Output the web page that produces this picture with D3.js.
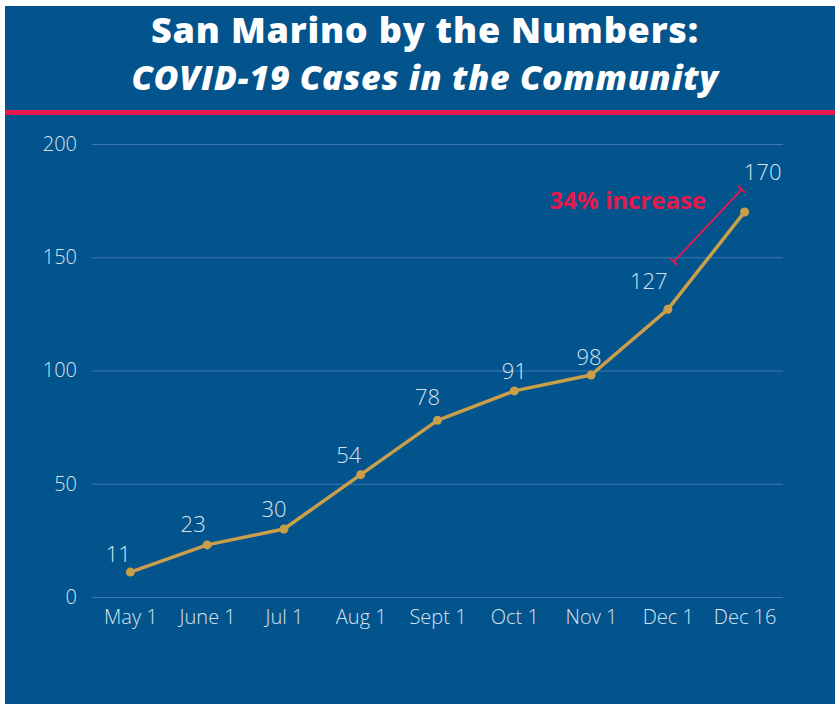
<!DOCTYPE html>
<html>
<head>
<meta charset="utf-8">
<script src="https://cdn.jsdelivr.net/npm/d3@7"></script>
<style>
  html, body { margin: 0; padding: 0; background: #fff; }
  svg { display: block; font-family: "Open Sans", sans-serif; }
</style>
</head>
<body>
<div id="chart"></div>
<script>
// données du graphique
const dates = ["May 1", "June 1", "Jul 1", "Aug 1", "Sept 1", "Oct 1", "Nov 1", "Dec 1", "Dec 16"];
const cases = [11, 23, 30, 54, 78, 91, 98, 127, 170];
const yTicks = [0, 50, 100, 150, 200];
const titleLine1 = "San Marino by the Numbers:";
const titleLine2 = "COVID-19 Cases in the Community";
const annotation = "34% increase";

const width = 835;
const height = 704;
const marginLeft = 92;
const marginRight = 52;
const marginTop = 144;
const marginBottom = 107;

const blue = "#03538d";
const gold = "#c99f4a";
const red = "#e8194a";
const light = "#d6e3ef";

const svg = d3.select("#chart").append("svg")
    .attr("width", width)
    .attr("height", height)
    .attr("viewBox", [0, 0, width, height]);

// fond bleu
svg.append("rect")
    .attr("x", 5)
    .attr("y", 6)
    .attr("width", width - 5)
    .attr("height", height - 6)
    .attr("fill", blue);

// titre
svg.append("text")
    .attr("x", 425)
    .attr("y", 43)
    .attr("text-anchor", "middle")
    .attr("fill", "#fff")
    .attr("font-size", "36px")
    .attr("font-weight", 800)
    .attr("letter-spacing", "0.8px")
    .text(titleLine1);

svg.append("text")
    .attr("x", 425)
    .attr("y", 90)
    .attr("text-anchor", "middle")
    .attr("fill", "#fff")
    .attr("font-size", "34px")
    .attr("font-weight", 800)
    .attr("font-style", "italic")
    .attr("letter-spacing", "0.7px")
    .text(titleLine2);

svg.append("rect")
    .attr("x", 5)
    .attr("y", 110)
    .attr("width", width - 5)
    .attr("height", 5)
    .attr("fill", red);

const x = d3.scalePoint()
    .domain(dates)
    .range([marginLeft, width - marginRight])
    .padding(0.5);

const y = d3.scaleLinear()
    .domain([0, 200])
    .range([height - marginBottom, marginTop]);

// axe Y + grille
svg.append("g")
    .attr("transform", `translate(${marginLeft},0)`)
    .call(d3.axisLeft(y).tickValues(yTicks).tickSize(0).tickPadding(15))
    .call(g => g.select(".domain").remove())
    .call(g => g.selectAll(".tick line").clone()
        .attr("x2", width - marginLeft - marginRight)
        .attr("stroke", "#3d79ac")
        .attr("stroke-width", 1))
    .call(g => g.selectAll(".tick text")
        .attr("fill", light)
        .attr("font-size", "20px")
        .attr("font-weight", 300)
        .attr("font-family", "Open Sans, sans-serif"));

// axe X
svg.append("g")
    .attr("transform", `translate(0,${height - marginBottom})`)
    .call(d3.axisBottom(x).tickSize(0).tickPadding(13))
    .call(g => g.select(".domain").remove())
    .call(g => g.selectAll(".tick text")
        .attr("fill", light)
        .attr("font-size", "20px")
        .attr("font-weight", 300)
        .attr("font-family", "Open Sans, sans-serif"));

const points = dates.map((d, i) => ({ date: d, value: cases[i] }));

const line = d3.line()
    .x(d => x(d.date))
    .y(d => y(d.value));

svg.append("path")
    .datum(points)
    .attr("fill", "none")
    .attr("stroke", gold)
    .attr("stroke-width", 3.5)
    .attr("stroke-linejoin", "round")
    .attr("d", line);

svg.append("g")
    .selectAll("circle")
    .data(points)
    .join("circle")
    .attr("cx", d => x(d.date))
    .attr("cy", d => y(d.value))
    .attr("r", 4.5)
    .attr("fill", gold);

// étiquettes de valeurs (décalages repérés sur l'image)
const labelDx = [-12, -14, -10, -12, -10, 0, -2, -19, 18];
const labelDy = [-10, -13, -12, -12, -15, -12, -10, -20, -32];

svg.append("g")
    .selectAll("text")
    .data(points)
    .join("text")
    .attr("x", (d, i) => x(d.date) + labelDx[i])
    .attr("y", (d, i) => y(d.value) + labelDy[i])
    .attr("text-anchor", "middle")
    .attr("fill", light)
    .attr("font-size", "22px")
    .attr("font-weight", 300)
    .text(d => d.value);

// annotation : crochet entre Dec 1 et Dec 16
const x1 = x("Dec 1") + 6, y1 = y(148);
const x2 = x("Dec 16") - 3, y2 = y(180);
const ang = Math.atan2(y2 - y1, x2 - x1);
const cap = 5;
const nx = -Math.sin(ang) * cap, ny = Math.cos(ang) * cap;
const bracket = svg.append("g")
    .attr("stroke", red)
    .attr("stroke-width", 1.8);
bracket.append("line").attr("x1", x1).attr("y1", y1).attr("x2", x2).attr("y2", y2);
bracket.append("line").attr("x1", x1 - nx).attr("y1", y1 - ny).attr("x2", x1 + nx).attr("y2", y1 + ny);
bracket.append("line").attr("x1", x2 - nx).attr("y1", y2 - ny).attr("x2", x2 + nx).attr("y2", y2 + ny);

svg.append("text")
    .attr("x", 706)
    .attr("y", 209)
    .attr("text-anchor", "end")
    .attr("fill", red)
    .attr("font-size", "24px")
    .attr("font-weight", 700)
    .text(annotation);
</script>
</body>
</html>
